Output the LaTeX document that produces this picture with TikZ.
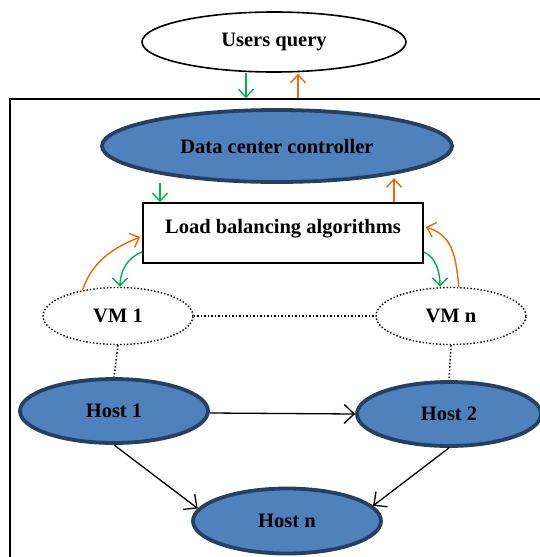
\documentclass[tikz,border=0pt]{standalone}
\usepackage{fontspec}
\setmainfont{Liberation Serif}
\usetikzlibrary{arrows.meta,shapes.geometric}
\definecolor{hostblue}{RGB}{79,129,189}
\definecolor{hostedge}{RGB}{37,64,97}
\definecolor{reqgreen}{RGB}{0,176,80}
\definecolor{resorange}{RGB}{228,108,10}

\begin{document}
\begin{tikzpicture}[x=1pt,y=-1pt,
    every node/.style={font=\fontsize{20.5}{24}\selectfont\bfseries},
    hostnode/.style={ellipse,fill=hostblue,draw=hostedge,line width=3.8pt,inner sep=0pt},
    vmnode/.style={ellipse,draw,dash pattern=on 1.4pt off 2pt,line width=1.4pt,
      minimum width=150pt,minimum height=57pt,inner sep=0pt},
    reqarrow/.style={draw=reqgreen,line width=1.4pt,-{Straight Barb[length=8pt,width=15pt]}},
    resarrow/.style={draw=resorange,line width=1.4pt,-{Straight Barb[length=8pt,width=15pt]}},
    linkarrow/.style={line width=1.3pt,-{Straight Barb[length=10pt,width=19pt]}},
    vmlink/.style={dash pattern=on 1.5pt off 2pt,line width=1.5pt}]
  \useasboundingbox (0,0) rectangle (539,557);

  % outer frame of the data center
  \node[draw,line width=1.6pt,minimum width=580pt,minimum height=500pt,inner sep=0pt]
    (frame) at (300,349) {};

  \node[ellipse,draw,line width=1.6pt,fill=white,minimum width=264pt,minimum height=60pt,
    inner sep=0pt] (uq) at (274,42) {Users query};
  \node[hostnode,minimum width=350pt,minimum height=72pt] (dcc) at (277,146)
    {Data center controller};
  \node[draw,line width=1.6pt,fill=white,minimum width=280pt,minimum height=60pt,
    text height=12pt,text depth=12pt] (lb) at (283,233) {Load balancing algorithms};

  % virtual machines
  \node[vmnode] (vm1) at (118,316) {VM 1};
  \node[vmnode] (vmn) at (451,316) {VM n};

  % hosts
  \node[hostnode,minimum width=188pt,minimum height=64pt] (h1) at (114,411) {Host 1};
  \node[hostnode,minimum width=184pt,minimum height=64pt] (h2) at (449,414) {Host 2};
  \node[hostnode,minimum width=188pt,minimum height=65pt] (hn) at (287,521) {Host n};

  % requests and responses
  \draw[reqarrow] ([xshift=-28pt]uq.south) -- ([xshift=-28pt]uq.south |- frame.north);
  \draw[resarrow] ([xshift=24pt]uq.south |- frame.north) -- ([xshift=24pt,yshift=-1pt]uq.south);
  \draw[reqarrow] ([xshift=-123pt,yshift=19pt]lb.north) -- ([xshift=-123pt]lb.north);
  \draw[resarrow] ([xshift=111pt]lb.north) -- ([xshift=111pt,yshift=24pt]lb.north);

  \draw[resarrow] (vm1.144) .. controls +(10,-30) and +(-25,10) .. ([xshift=-2pt,yshift=-4pt]lb.west);
  \draw[reqarrow] ([yshift=-19pt]lb.west) .. controls +(-15,5) and +(0,-15) .. ([xshift=2pt]vm1.north);
  \draw[reqarrow] ([yshift=-19pt]lb.east) .. controls +(12,5) and +(0,-15) .. ([xshift=-11pt]vmn.north);
  \draw[resarrow] (vmn.75) .. controls +(-3,-35) and +(25,8) .. ([xshift=2pt,yshift=6pt]lb.east);

  % links between vms and hosts
  \draw[vmlink] (vm1.east) -- (vmn.west);
  \draw[vmlink] (vm1.south) -- (h1.north);
  \draw[vmlink] (vmn.south) -- (h2.north);

  \draw[linkarrow] ([yshift=-2pt]h1.east) -- (h2.west);
  \draw[linkarrow] (h1.south) -- (hn.172);
  \draw[linkarrow] (h2.south) -- (hn.10);
\end{tikzpicture}
\end{document}
